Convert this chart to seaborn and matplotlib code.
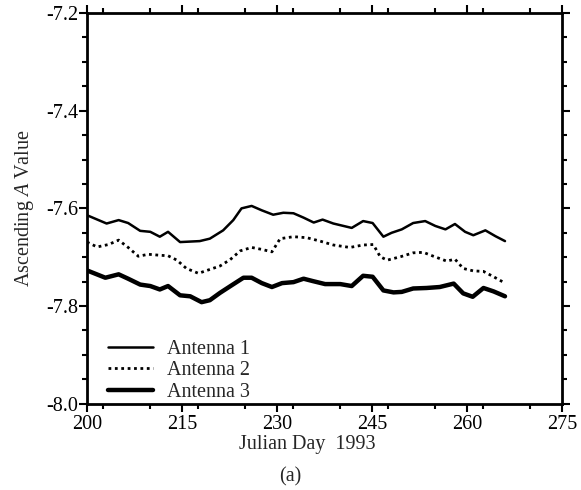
import matplotlib
matplotlib.use("Agg")
import matplotlib.pyplot as plt
from matplotlib.ticker import MultipleLocator
import seaborn as sns
import pandas as pd

# ---- data ----
days_1 = [200.0, 203.1, 205.0, 206.5, 208.4, 210.0, 211.5, 212.8, 214.7, 217.8, 219.4,
          221.5, 223.1, 224.4, 226.0, 227.6, 229.4, 231.0, 232.6, 234.2, 235.8, 237.2,
          238.9, 241.8, 243.6, 245.1, 246.8, 248.1, 249.7, 251.5, 253.4, 255.0, 256.6,
          258.1, 259.7, 261.0, 262.9, 264.5, 266.0]
antenna_1 = [-7.614, -7.631, -7.624, -7.630, -7.646, -7.648, -7.658, -7.648, -7.669, -7.667, -7.662,
             -7.645, -7.624, -7.600, -7.595, -7.604, -7.613, -7.609, -7.610, -7.619, -7.629, -7.623,
             -7.631, -7.640, -7.626, -7.630, -7.658, -7.650, -7.643, -7.630, -7.626, -7.636, -7.643,
             -7.632, -7.648, -7.655, -7.645, -7.657, -7.667]

days_2 = [200.0, 201.6, 203.4, 205.0, 206.5, 208.1, 209.7, 211.5, 212.8, 214.2, 215.7,
          217.6, 219.4, 221.0, 222.6, 224.2, 226.0, 227.6, 229.2, 230.5, 232.6, 234.7,
          236.8, 238.9, 241.5, 243.6, 245.2, 246.3, 247.4, 249.5, 251.5, 253.1, 254.7,
          256.8, 258.1, 259.4, 261.0, 262.6, 264.2, 266.0]
antenna_2 = [-7.669, -7.679, -7.674, -7.665, -7.680, -7.698, -7.694, -7.696, -7.697, -7.706, -7.723,
             -7.733, -7.725, -7.718, -7.705, -7.687, -7.680, -7.684, -7.689, -7.662, -7.658, -7.660,
             -7.667, -7.675, -7.680, -7.675, -7.674, -7.699, -7.706, -7.699, -7.691, -7.690, -7.698,
             -7.708, -7.704, -7.723, -7.728, -7.729, -7.740, -7.753]

days_3 = [200.0, 202.9, 205.0, 206.5, 208.4, 210.0, 211.5, 212.8, 214.7, 216.3, 218.1,
          219.4, 221.0, 222.9, 224.7, 226.0, 227.6, 229.2, 230.8, 232.6, 234.2, 235.7,
          237.6, 240.0, 241.8, 243.6, 245.1, 246.8, 248.4, 249.7, 251.5, 253.6, 255.7,
          257.9, 259.4, 260.9, 262.6, 264.2, 266.0]
antenna_3 = [-7.727, -7.742, -7.735, -7.744, -7.756, -7.759, -7.766, -7.759, -7.778, -7.780, -7.792,
             -7.788, -7.773, -7.757, -7.742, -7.742, -7.753, -7.761, -7.753, -7.751, -7.744, -7.749,
             -7.755, -7.755, -7.759, -7.738, -7.740, -7.768, -7.772, -7.771, -7.764, -7.763, -7.761,
             -7.754, -7.774, -7.781, -7.763, -7.770, -7.780]

x_ticks = [200, 215, 230, 245, 260, 275]
y_ticks = [-8.0, -7.8, -7.6, -7.4, -7.2]

# ---- style ----
sns.set_style("ticks")
plt.rcParams['font.family'] = ['Liberation Serif', 'DejaVu Serif']
plt.rcParams['mathtext.fontset'] = 'custom'
plt.rcParams['mathtext.it'] = 'Liberation Serif:italic'
plt.rcParams['mathtext.rm'] = 'Liberation Serif'

fig = plt.figure(figsize=(5.81, 4.90), dpi=100)
ax = fig.add_axes([0.1497, 0.176, 0.8176, 0.7975])

df1 = pd.DataFrame({"day": days_1, "value": antenna_1})
df2 = pd.DataFrame({"day": days_2, "value": antenna_2})
df3 = pd.DataFrame({"day": days_3, "value": antenna_3})

sns.lineplot(data=df1, x="day", y="value", ax=ax, color="black", lw=1.8,
             sort=False, estimator=None, label="Antenna 1")
sns.lineplot(data=df2, x="day", y="value", ax=ax, color="black", lw=2.0,
             linestyle=(0, (1, 1.3)), sort=False, estimator=None, label="Antenna 2")
sns.lineplot(data=df3, x="day", y="value", ax=ax, color="black", lw=3.2,
             sort=False, estimator=None, label="Antenna 3")

ax.set_xlim(200, 275)
ax.set_ylim(-8.0, -7.2)
ax.set_xticks(x_ticks)
ax.set_yticks(y_ticks)
ax.set_yticklabels([f"{v:.1f}" for v in y_ticks])
ax.xaxis.set_minor_locator(MultipleLocator(7.5))
ax.yaxis.set_minor_locator(MultipleLocator(0.05))

for s in ax.spines.values():
    s.set_visible(True)
    s.set_linewidth(2.0)
    s.set_color("black")

ax.tick_params(which="both", direction="out", top=True, right=True,
               width=1.5, color="black", labelsize=14.5, labelcolor="black")
ax.tick_params(which="major", length=6)
ax.tick_params(which="minor", length=3.5)
ax.tick_params(axis="x", which="major", pad=2)
ax.tick_params(axis="y", which="major", pad=0.5)

ax.set_xlabel("Julian Day  1993", fontsize=14.5)
ax.set_ylabel("Ascending $A$ Value", fontsize=14.5)
ax.xaxis.set_label_coords(0.463, -0.079)
ax.yaxis.set_label_coords(-0.108, 0.5)

ax.legend(loc="lower left", bbox_to_anchor=(0.045, 0.005), frameon=False,
          fontsize=14.5, handlelength=2.2, handletextpad=0.7,
          labelspacing=0.12, borderpad=0, borderaxespad=0)

fig.text(290 / 581, 1 - 477 / 490, "(a)", ha="center", va="center", fontsize=14.5)

fig.savefig("out.png", dpi=100, facecolor="white")
